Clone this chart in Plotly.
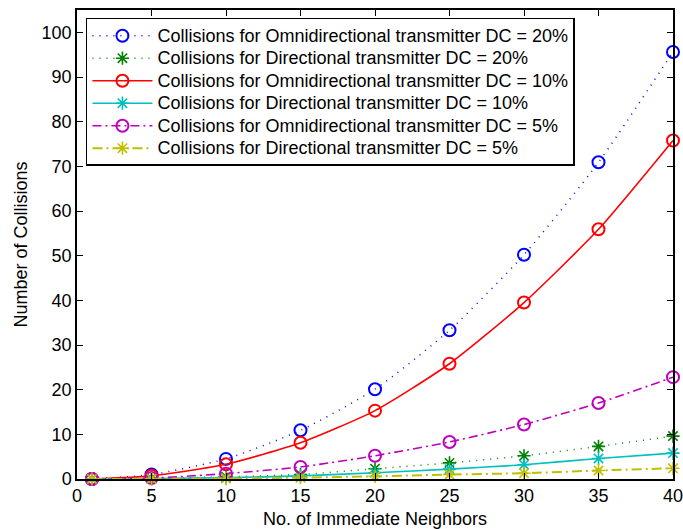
import plotly.graph_objects as go

neighbors = [1, 5, 10, 15, 20, 25, 30, 35, 40]
omni_20 = [0, 1.0, 4.5, 10.9, 20.1, 33.3, 50.2, 70.9, 95.6]
dir_20 = [0, 0.1, 0.5, 1.0, 2.3, 3.6, 5.2, 7.3, 9.6]
omni_10 = [0, 0.7, 3.3, 8.1, 15.3, 25.8, 39.5, 55.9, 75.8]
dir_10 = [0, 0.1, 0.3, 0.7, 1.4, 2.2, 3.2, 4.6, 5.8]
omni_5 = [0, 0.2, 1.2, 2.7, 5.2, 8.3, 12.2, 17.0, 22.8]
dir_5 = [0, 0.05, 0.1, 0.3, 0.6, 1.0, 1.3, 1.9, 2.4]

names = [
    "Collisions for Omnidirectional transmitter DC = 20%",
    "Collisions for Directional transmitter DC = 20%",
    "Collisions for Omnidirectional transmitter DC = 10%",
    "Collisions for Directional transmitter DC = 10%",
    "Collisions for Omnidirectional transmitter DC = 5%",
    "Collisions for Directional transmitter DC = 5%",
]
series = [omni_20, dir_20, omni_10, dir_10, omni_5, dir_5]
colors = ["#0000FF", "#008000", "#FF0000", "#00BFBF", "#BF00BF", "#BFBF00"]
dashes = ["1px,6px", "1px,6px", "solid", "solid", "9px,4px,2px,4px", "10px,4px,2px,4px"]
widths = [1.5, 1.5, 1.6, 1.6, 1.6, 2.0]
symbols = ["circle-open", "asterisk-open", "circle-open", "asterisk-open", "circle-open", "asterisk-open"]

fig = go.Figure()
for name, ys, c, d, w, s in zip(names, series, colors, dashes, widths, symbols):
    fig.add_trace(go.Scatter(
        x=neighbors, y=ys, name='<span style="font-size:18px">' + name + '</span>',
        mode="lines+markers",
        line=dict(color=c, dash=d, width=w, shape="spline", smoothing=0.6),
        marker=dict(symbol=s, size=12 if "circle" in s else 11, color=c,
                    line=dict(color=c, width=2 if "circle" in s else 1.6)),
        cliponaxis=False,
    ))

font = dict(family="Liberation Sans, Arial, sans-serif", size=18, color="black")
axis_common = dict(showgrid=False, zeroline=False, showline=True, linecolor="black",
                   linewidth=1.5, mirror="ticks", ticks="inside", ticklen=6,
                   tickwidth=1.2, tickcolor="black", tickfont=font, automargin=False,
                   ticklabeloverflow="allow")

fig.update_layout(
    width=683, height=529,
    margin=dict(l=77, r=10, t=10, b=50),
    paper_bgcolor="white", plot_bgcolor="white",
    font=font,
    showlegend=True,
    legend=dict(x=0.015, y=0.983, xanchor="left", yanchor="top",
                bgcolor="white", bordercolor="black", borderwidth=1.5,
                font=dict(family=font["family"], size=15, color="black"),
                itemwidth=60, tracegroupgap=0),
    xaxis=dict(range=[0, 40], tickvals=list(range(0, 41, 5)),
               title=dict(text="No. of Immediate Neighbors", font=font, standoff=10),
               **axis_common),
    yaxis=dict(range=[0, 105], tickvals=list(range(0, 101, 10)),
               title=dict(text="Number of Collisions", font=font, standoff=9),
               **axis_common),
)

fig.write_html("out.html")
